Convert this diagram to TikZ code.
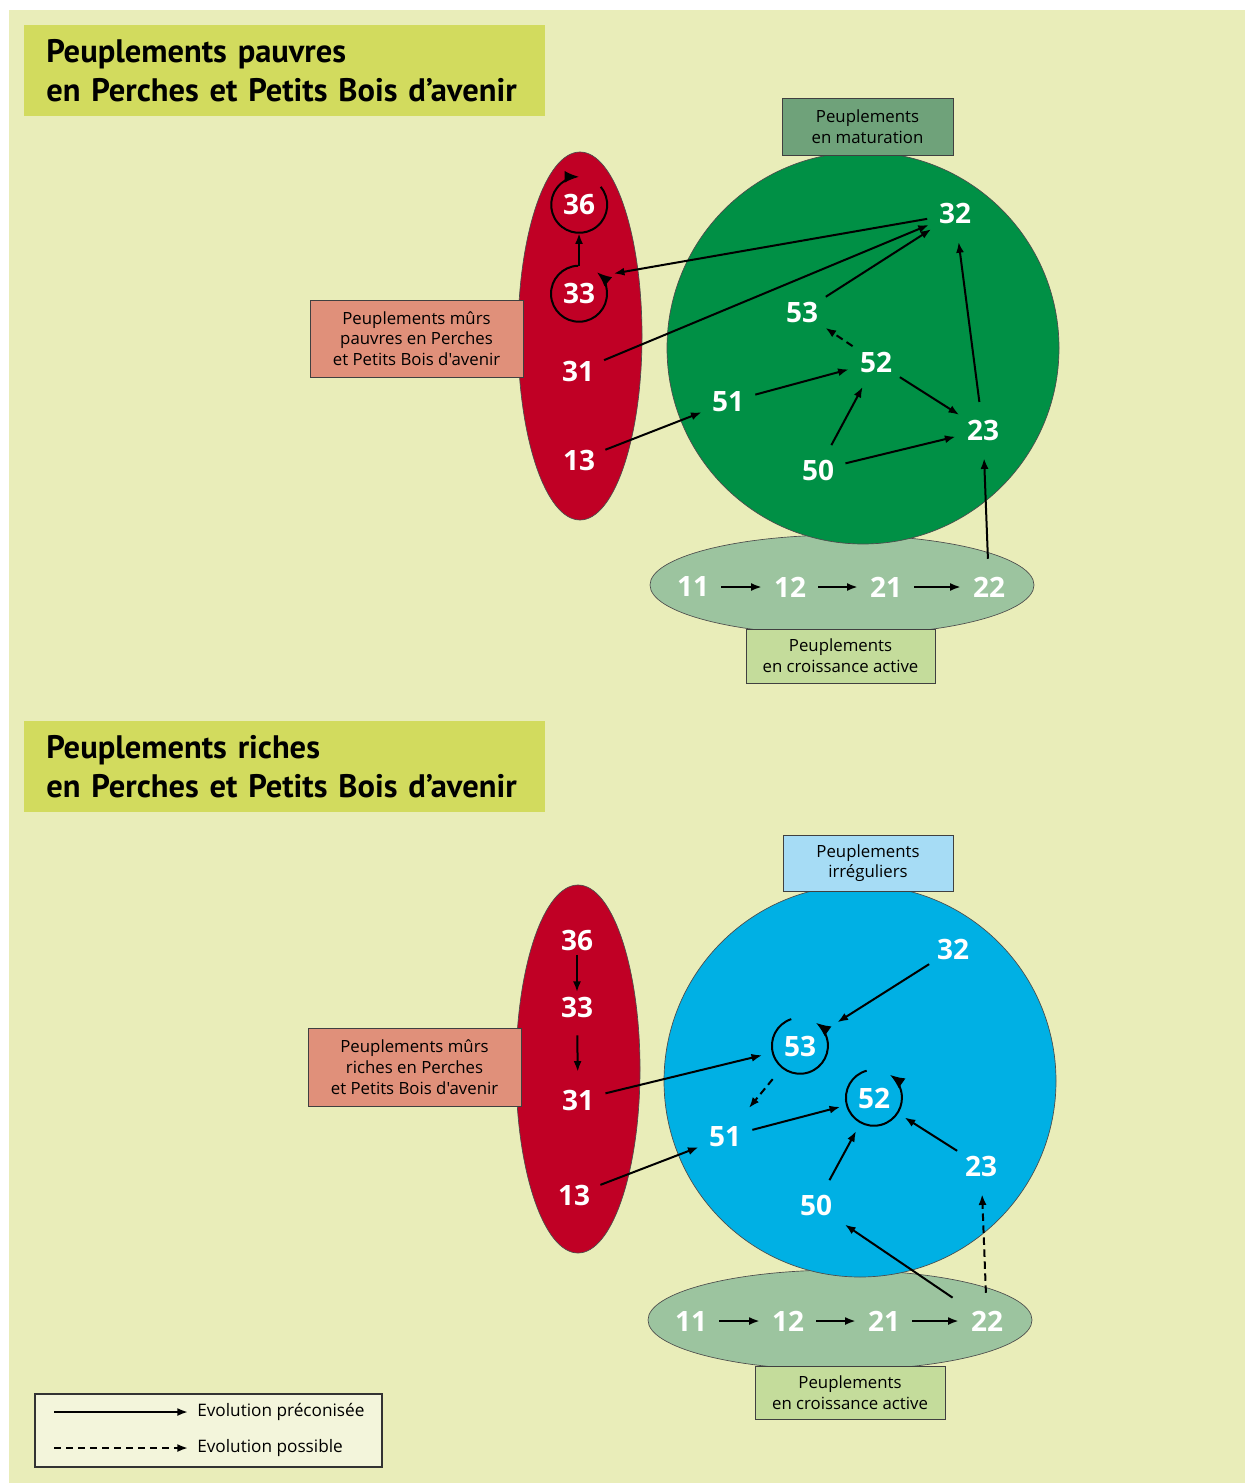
\documentclass[tikz,border=0pt]{standalone}
\usepackage{fontspec}
\newfontfamily\lblfont{Open Sans}
\newfontfamily\titrefont{PT Sans}
\usetikzlibrary{arrows.meta}
\definecolor{fond}{HTML}{E9EDB9}
\definecolor{bandeaucol}{HTML}{D2DB5E}
\definecolor{rouge}{HTML}{C00025}
\definecolor{vert}{HTML}{009045}
\definecolor{vertpale}{HTML}{9CC49F}
\definecolor{vertgris}{HTML}{6FA27A}
\definecolor{saumon}{HTML}{E0907A}
\definecolor{vertclair}{HTML}{C4DC9B}
\definecolor{bleu}{HTML}{00B0E4}
\definecolor{bleuclair}{HTML}{A6DCF5}
\definecolor{legendecol}{HTML}{F3F5DB}

\begin{document}
\begin{tikzpicture}[x=0.75pt,y=-0.75pt,
  num/.style={circle,minimum size=42pt,inner sep=0pt,text=white,font=\lblfont\bfseries\fontsize{21}{21}\selectfont},
  lbl/.style={draw=black!75,line width=0.6pt,align=center,inner sep=0pt,font=\lblfont\fontsize{12.6}{15.5}\selectfont},
  bandeau/.style={fill=bandeaucol,anchor=north west,align=left,minimum width=390.75pt,minimum height=68.25pt,
    text width=357.75pt,inner xsep=16.5pt,inner ysep=0pt,font=\titrefont\bfseries\fontsize{24.4}{29.5}\selectfont},
  evol/.style={-{Latex[length=8pt,width=6pt]},line width=1.5pt},
  poss/.style={evol,dash pattern=on 5.5pt off 3.5pt},
  boucle/.style={-{Latex[length=11pt,width=9pt]},line width=1.5pt},
  forme/.style={draw=black!70,line width=0.5pt}]
\useasboundingbox (0,0) rectangle (1249,1483);
\fill[fond] (9,10) rectangle (1245,1483);

% --- peuplements pauvres ---
\node[bandeau] (titre1) at (24,25) {Peuplements pauvres\\en Perches et Petits Bois d’avenir};
\draw[forme,fill=vertpale] (842,585) ellipse [x radius=192,y radius=50];
\draw[forme,fill=vert] (863,348) circle [radius=196];
\draw[forme,fill=rouge] (580,336) ellipse [x radius=62,y radius=184];
\node[lbl,fill=vertgris,minimum width=128.25pt,minimum height=42.75pt] (matur) at (867.5,126.5) {Peuplements\\en maturation};
\node[lbl,fill=saumon,minimum width=159.75pt,minimum height=57.75pt] (murs1) at (416.5,338.5) {Peuplements mûrs\\pauvres en Perches\\et Petits Bois d'avenir};
\node[lbl,fill=vertclair,minimum width=141.75pt,minimum height=40.5pt] (crois1) at (840.5,656) {Peuplements\\en croissance active};

\node[num] (h36) at (579,205) {36};
\node[num] (h33) at (579,294) {33};
\node[num] (h31) at (578,371) {31};
\node[num] (h13) at (579,460) {13};
\node[num] (h32) at (955,214) {32};
\node[num] (h53) at (802,312) {53};
\node[num] (h52) at (876,362) {52};
\node[num] (h51) at (728,402) {51};
\node[num] (h23) at (983,430) {23};
\node[num] (h50) at (818,470) {50};
\node[num] (h11) at (693,587) {11};
\node[num] (h12) at (790,587) {12};
\node[num] (h21) at (886,587) {21};
\node[num] (h22) at (989,587) {22};

\draw[boucle] (h36.40) arc [start angle=40,end angle=-270,radius=21pt];
\draw[boucle] (h33.92) arc [start angle=92,end angle=410,radius=21pt];
\draw[evol] (h33) -- (h36);
\draw[evol,shorten >=10pt] (h32) -- (h33.40);
\draw[evol] (h31) -- (h32);
\draw[evol] (h53) -- (h32);
\draw[evol] (h23) -- (h32);
\draw[poss] (h52) -- (h53);
\draw[evol] (h51) -- (h52);
\draw[evol] (h13) -- (h51);
\draw[evol] (h50) -- (h52);
\draw[evol] (h52) -- (h23);
\draw[evol] (h50) -- (h23);
\draw[evol] (h22) -- (h23);
\draw[evol] (h11) -- (h12);
\draw[evol] (h12) -- (h21);
\draw[evol] (h21) -- (h22);

% --- peuplements riches ---
\node[bandeau] (titre2) at (24,721) {Peuplements riches\\en Perches et Petits Bois d’avenir};
\draw[forme,fill=vertpale] (840,1320) ellipse [x radius=192,y radius=50];
\draw[forme,fill=bleu] (860,1081) circle [radius=196];
\draw[forme,fill=rouge] (578,1069) ellipse [x radius=62,y radius=184];
\node[lbl,fill=bleuclair,minimum width=127.5pt,minimum height=42pt] (irreg) at (868,863) {Peuplements\\irréguliers};
\node[lbl,fill=saumon,minimum width=159.75pt,minimum height=58.5pt] (murs2) at (414.5,1067) {Peuplements mûrs\\riches en Perches\\et Petits Bois d'avenir};
\node[lbl,fill=vertclair,minimum width=142.5pt,minimum height=39.75pt] (crois2) at (850,1392.5) {Peuplements\\en croissance active};

\node[num] (b36) at (577,940) {36};
\node[num] (b33) at (577,1007) {33};
\node[num] (b31) at (578,1100) {31};
\node[num] (b13) at (574,1195) {13};
\node[num] (b32) at (953,949) {32};
\node[num] (b53) at (800,1046) {53};
\node[num] (b52) at (874,1098) {52};
\node[num] (b51) at (725,1137) {51};
\node[num] (b23) at (981,1166) {23};
\node[num] (b50) at (816,1205) {50};
\node[num] (b11) at (691,1321) {11};
\node[num] (b12) at (788,1321) {12};
\node[num] (b21) at (884,1321) {21};
\node[num] (b22) at (987,1321) {22};

\draw[boucle] (b53.108) arc [start angle=108,end angle=415,radius=21pt];
\draw[boucle] (b52.105) arc [start angle=105,end angle=415,radius=21pt];
\draw[evol,shorten <=-10pt,shorten >=-10pt] (b36) -- (b33);
\draw[evol] (b33) -- (b31);
\draw[evol,shorten >=8pt] (b31) -- (b53);
\draw[evol] (b13) -- (b51);
\draw[evol,shorten >=12pt] (b32) -- (b53);
\draw[poss,shorten <=11pt,shorten >=7pt] (b53) -- (b51);
\draw[evol,shorten >=5pt] (b51) -- (b52);
\draw[evol,shorten >=7pt] (b50) -- (b52);
\draw[evol,shorten >=6pt] (b23) -- (b52);
\draw[evol,shorten <=10pt,shorten >=5pt] (b22) -- (b50);
\draw[poss] (b22) -- (b23);
\draw[evol] (b11) -- (b12);
\draw[evol] (b12) -- (b21);
\draw[evol] (b21) -- (b22);

% --- legende ---
\node[draw=black!80,line width=0.9pt,fill=legendecol,minimum width=260.25pt,minimum height=54.75pt,inner sep=0pt] (legende) at (208.5,1430.5) {};
\coordinate (l1a) at (54,1412);
\coordinate (l1b) at (188,1412);
\coordinate (l2a) at (54,1448);
\coordinate (l2b) at (188,1448);
\draw[evol] (l1a) -- (l1b);
\draw[poss] (l2a) -- (l2b);
\node[anchor=west,inner sep=0pt,font=\lblfont\fontsize{12.9}{15}\selectfont] (preco) at (197,1412) {Evolution préconisée};
\node[anchor=west,inner sep=0pt,font=\lblfont\fontsize{12.9}{15}\selectfont] (possible) at (197,1448) {Evolution possible};
\end{tikzpicture}
\end{document}
